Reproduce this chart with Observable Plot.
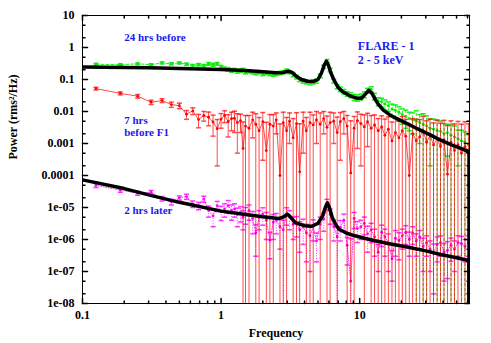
<!DOCTYPE html>
<html><head><meta charset="utf-8">
<script src="https://cdn.jsdelivr.net/npm/d3@7"></script>
<script src="https://cdn.jsdelivr.net/npm/@observablehq/plot@0.6"></script>
<style>body{margin:0;background:#fff}</style>
</head><body><div id="chart"></div>
<script>
// Frequency bins (Hz)
const freq = [0.125,0.1875,0.25,0.3125,0.375,0.4375,0.5,0.5625,0.625,0.6875,
 0.75,0.8125,0.875,0.9375,1.0,1.06,1.125,1.19,1.25,1.31,
 1.38,1.44,1.5,1.59,1.69,1.78,1.88,2.0,2.12,2.25,
 2.38,2.5,2.66,2.81,2.97,3.12,3.31,3.5,3.69,3.91,
 4.12,4.38,4.62,4.88,5.19,5.5,5.81,6.12,6.5,6.88,
 7.25,7.69,8.12,8.62,9.12,9.62,10.2,10.8,11.4,12.1,
 12.8,13.6,14.4,15.2,16.1,17.1,18.1,19.2,20.3,21.5,
 22.8,24.1,25.6,27.1,28.7,30.4,32.2,34.1,36.2,38.3,
 40.6,43.0,45.6,48.3,51.2,54.2,57.5,60.9];

// 24 hrs before (green)
const greenPow = [0.30,0.29,0.31,0.29,0.33,0.31,0.33,0.30,0.27,0.29,
 0.27,0.31,0.29,0.31,0.25,0.22,0.21,0.19,0.20,0.18,
 0.19,0.20,0.17,0.18,0.17,0.16,0.17,0.15,0.16,0.15,
 0.145,0.15,0.16,0.17,0.19,0.17,0.14,0.12,0.10,0.09,
 0.085,0.08,0.085,0.09,0.13,0.25,0.38,0.20,0.09,0.06,
 0.05,0.042,0.036,0.033,0.028,0.027,0.029,0.034,0.045,0.05,
 0.03,0.021,0.02,0.017,0.015,0.012,0.011,0.0095,0.008,0.007,
 0.006,0.0055,0.005,0.0045,0.004,0.0035,0.003,0.0028,0.0025,0.0024,
 0.002,0.0022,0.0018,0.0016,0.0014,0.0012,0.0011,0.0009];
const greenErr = [0.02,0.02,0.02,0.02,0.025,0.025,0.025,0.025,0.025,0.025,
 0.025,0.03,0.03,0.03,0.025,0.025,0.025,0.022,0.022,0.022,
 0.022,0.022,0.02,0.02,0.02,0.02,0.02,0.018,0.018,0.018,
 0.018,0.018,0.02,0.02,0.022,0.02,0.018,0.016,0.014,0.013,
 0.012,0.012,0.012,0.013,0.016,0.03,0.04,0.025,0.012,0.009,
 0.008,0.007,0.006,0.006,0.006,0.006,0.006,0.007,0.008,0.009,
 0.007,0.006,0.006,0.006,0.005,0.005,0.005,0.0045,0.004,0.004,
 0.0035,0.0035,0.0055,0.0035,0.0045,0.0038,0.0028,0.003,0.0028,0.0026,
 0.0022,0.0018,0.002,0.0019,0.0012,0.0014,0.0012,0.001];

// 7 hrs before F1 (red)
const redPow = [0.052,0.037,0.030,0.0195,0.022,0.0165,0.0152,0.0082,0.0105,0.0056,
 0.0075,0.0066,0.0047,0.0029,0.0058,0.0075,0.0048,0.006,0.0062,0.0045,
 0.0052,0.0007,0.0035,0.003,0.0055,0.004,0.0025,0.0048,0.0006,0.004,
 0.0035,0.0055,0.0001,0.0045,0.0025,0.005,0.0015,0.0042,0.00013,0.005,
 0.0025,0.0045,0.0038,0.0055,0.004,0.006,0.0032,0.0045,0.005,0.0022,
 0.0048,0.006,0.0035,0.00012,0.003,0.0052,0.0042,0.0033,0.0048,0.003,
 0.0038,0.0025,0.0033,0.0018,0.0028,0.0012,0.0022,0.0015,0.0025,0.0017,
 0.0001,0.002,0.0012,0.0016,0.0025,0.0011,0.0018,0.0009,0.0014,0.0008,
 0.0013,0.00011,0.0011,0.0006,0.0009,0.0005,0.0008,0.0006];
const redErr = [0.005,0.004,0.004,0.003,0.003,0.003,0.003,0.0025,0.0025,0.0025,
 0.0025,0.003,0.003,0.0027,0.0028,0.003,0.0032,0.0035,0.004,0.004,
 0.003,0.004,0.004,0.0045,0.004,0.0045,0.004,0.0045,0.004,0.004,
 0.0045,0.0035,0.004,0.005,0.004,0.004,0.0045,0.005,0.004,0.0045,
 0.004,0.005,0.004,0.0045,0.005,0.004,0.004,0.005,0.004,0.0045,
 0.0045,0.004,0.004,0.005,0.004,0.0045,0.004,0.0045,0.004,0.0045,
 0.004,0.0035,0.004,0.004,0.004,0.0035,0.004,0.0035,0.0045,0.004,
 0.0035,0.004,0.0045,0.004,0.0045,0.004,0.004,0.0035,0.004,0.0035,
 0.004,0.0035,0.004,0.0035,0.004,0.0035,0.004,0.0035];

// 2 hrs later (magenta)
const magPow = [4.9e-5,3.5e-5,2.8e-5,3.0e-5,1.9e-5,1.5e-5,2.0e-5,2.2e-5,1.3e-5,1.15e-5,
 1.85e-5,8e-6,5.5e-6,1.15e-5,7.4e-6,9e-6,1.15e-5,8e-6,9e-6,6e-6,
 7e-6,5e-6,6.5e-6,8e-6,4.5e-6,1.6e-6,5e-6,6.3e-6,4e-6,9.5e-7,
 3.5e-6,4e-6,2.5e-6,2e-6,6.3e-6,5e-6,3e-6,3.2e-6,2e-6,2.5e-6,
 1.6e-6,1.3e-6,2.5e-6,9e-7,3e-6,4.3e-6,1.3e-5,6e-6,2.5e-6,1.2e-6,
 2.4e-6,4e-6,6.6e-7,5e-8,4.6e-6,2.2e-6,2.5e-6,3.2e-6,1.5e-6,2e-6,
 1.2e-6,4e-7,1.7e-6,1.2e-6,8e-7,2.5e-7,1.1e-6,9.3e-7,1.3e-6,1.7e-6,
 1.0e-6,1.6e-6,9e-7,1.2e-6,6e-7,8e-7,5e-7,3.7e-7,7e-7,8e-7,
 4e-7,4.6e-7,6.6e-7,5e-7,8e-7,7.5e-7,6e-7,8e-7];
const magErr = [7e-6,5e-6,4e-6,4e-6,3e-6,3e-6,3e-6,4e-6,3e-6,3e-6,
 4e-6,3e-6,3e-6,4e-6,3.5e-6,4e-6,5e-6,4e-6,4e-6,3.5e-6,
 3.5e-6,3e-6,3.5e-6,4e-6,3e-6,1.3e-6,3e-6,3.5e-6,3e-6,7e-7,
 2.5e-6,2.5e-6,2e-6,2e-6,3.5e-6,3e-6,2e-6,2e-6,1.6e-6,1.8e-6,
 1.4e-6,1.2e-6,1.6e-6,7e-7,2e-6,2.5e-6,5e-6,3e-6,1.6e-6,1.2e-6,
 1.5e-6,2.2e-6,5e-7,1.0e-6,2.4e-6,1.4e-6,1.5e-6,1.8e-6,1.1e-6,1.2e-6,
 9e-7,3e-7,1.1e-6,9e-7,7e-7,2e-7,8e-7,7e-7,8e-7,1e-6,
 7e-7,9e-7,6e-7,7e-7,5e-7,5e-7,4e-7,3.5e-7,5e-7,5e-7,
 3.5e-7,4e-7,4.5e-7,4e-7,5e-7,5e-7,4e-7,5e-7];

// Model fits (black)
const modelGreenF = [0.1,0.3,1.0,1.5,2.0,2.5,2.8,3.0,3.1,3.3,3.5,3.8,4.2,4.6,5.0,5.3,5.55,5.75,5.95,6.2,6.5,7.0,7.5,8.5,9.5,10.3,11.0,11.6,12.2,12.8,13.6,14.8,16.5,18.7,22,26,32,38,46,55,61.5,61.5];
const modelGreenP = [0.245,0.235,0.205,0.19,0.175,0.162,0.165,0.178,0.18,0.16,0.125,0.1,0.088,0.086,0.1,0.16,0.28,0.37,0.28,0.16,0.1,0.056,0.042,0.031,0.026,0.026,0.035,0.046,0.038,0.026,0.017,0.011,0.0078,0.0059,0.0042,0.0029,0.0019,0.0013,0.0009,0.00068,0.00054,1e-12];
const modelMagF = [0.1,0.2,0.31,0.5,1.0,1.5,2.0,2.6,2.85,3.0,3.15,3.45,4.0,4.5,5.0,5.4,5.65,5.85,6.05,6.35,6.7,7.1,8.0,9.1,11,12.7,16,22,30,38.5,50,61.5,61.5];
const modelMagP = [7.3e-5,3.9e-5,2.4e-5,1.45e-5,7.7e-6,6.0e-6,5.1e-6,4.5e-6,5.2e-6,6.2e-6,5.2e-6,3.3e-6,2.7e-6,2.6e-6,3.2e-6,5.5e-6,1.0e-5,1.4e-5,1.0e-5,4.8e-6,3e-6,2.1e-6,1.6e-6,1.33e-6,1.08e-6,9.3e-7,7.5e-7,5.8e-7,4.4e-7,3.4e-7,2.7e-7,2.2e-7,1e-12];

// Axis ticks
const xMajor = [0.1, 1, 10];
const xMajorLabels = ["0.1", "1", "10"];
const xMinor = [0.2,0.3,0.4,0.5,0.6,0.7,0.8,0.9,2,3,4,5,6,7,8,9,20,30,40,50,60];
const yMajor = [1e-8,1e-7,1e-6,1e-5,1e-4,1e-3,1e-2,0.1,1,10];
const yMajorLabels = ["1e-08","1e-07","1e-06","1e-05","0.0001","0.001","0.01","0.1","1","10"];
const yMinor = [2e-8,5e-8,2e-7,5e-7,2e-6,5e-6,2e-5,5e-5,2e-4,5e-4,2e-3,5e-3,0.02,0.05,0.2,0.5,2,5];
const xTitle = "Frequency";
const yTitle = "Power (rms²/Hz)";

// Annotations
const notes = [
  {x: 0.2, y: 2.1, text: "24 hrs before", size: 11},
  {x: 9.7, y: 0.68, text: "FLARE - 1\n2 - 5 keV", size: 12},
  {x: 0.2, y: 0.0034, text: "7 hrs\nbefore F1", size: 11},
  {x: 0.2, y: 8.3e-6, text: "2 hrs later", size: 11}
];

const rows = (vals, errs) => freq.map((f, i) => ({
  f, v: vals[i],
  lo: vals[i] - errs[i] > 0 ? vals[i] - errs[i] : 1e-12,
  hi: vals[i] + errs[i]
}));
const green = rows(greenPow, greenErr);
const red = rows(redPow, redErr);
const mag = rows(magPow, magErr);
const modelG = modelGreenF.map((f, i) => ({f, v: modelGreenP[i]}));
const modelM = modelMagF.map((f, i) => ({f, v: modelMagP[i]}));

const cap = {draw(ctx, size) { const w = Math.sqrt(size / Math.PI); ctx.moveTo(-w, 0); ctx.lineTo(w, 0); }};

function series(data, color, dash, opacity) {
  return [
    Plot.line(data, {x: "f", y: "v", stroke: color, strokeWidth: 1, strokeDasharray: dash, strokeOpacity: opacity, clip: true}),
    Plot.ruleX(data, {x: "f", y1: "lo", y2: "hi", stroke: color, strokeWidth: 1, strokeDasharray: dash, strokeOpacity: opacity, clip: true}),
    Plot.dot(data, {x: "f", y: "hi", symbol: cap, r: 2.5, stroke: color, fill: "none", strokeOpacity: opacity, clip: true}),
    Plot.dot(data, {x: "f", y: "lo", symbol: cap, r: 2.5, stroke: color, fill: "none", strokeOpacity: opacity, clip: true}),
    Plot.dot(data, {x: "f", y: "v", r: 1.4, fill: color, stroke: "none", clip: true})
  ];
}

function xTicks(vals, len) {
  return [
    Plot.vector(vals, {x: d => d, frameAnchor: "bottom", length: len, rotate: 0, anchor: "start", r: 0, stroke: "#000"}),
    Plot.vector(vals, {x: d => d, frameAnchor: "top", length: len, rotate: 180, anchor: "start", r: 0, stroke: "#000"})
  ];
}
function yTicks(vals, len) {
  return [
    Plot.vector(vals, {y: d => d, frameAnchor: "left", length: len, rotate: 90, anchor: "start", r: 0, stroke: "#000"}),
    Plot.vector(vals, {y: d => d, frameAnchor: "right", length: len, rotate: -90, anchor: "start", r: 0, stroke: "#000"})
  ];
}

const chart = Plot.plot({
  width: 491, height: 343,
  marginLeft: 82, marginRight: 22, marginTop: 15, marginBottom: 40,
  style: {fontFamily: "'Liberation Serif', 'Times New Roman', serif", fontSize: "12px", fontWeight: "bold", color: "#000", background: "#fff"},
  x: {type: "log", domain: [0.1, 62], ticks: xMajor, tickFormat: d => xMajorLabels[xMajor.indexOf(d)], tickSize: 0, tickPadding: 7, label: null},
  y: {type: "log", domain: [1e-8, 10], ticks: yMajor, tickFormat: d => yMajorLabels[yMajor.indexOf(d)], tickSize: 0, tickPadding: 8, label: null},
  marks: [
    ...series(green, "#00ee00", "3,2", 0.9),
    ...series(mag, "#ff00ff", "1,1.5", 0.8),
    ...series(red, "#ff0000", null, 0.7),
    Plot.line(modelG, {x: "f", y: "v", stroke: "#000", strokeWidth: 3.5, clip: true}),
    Plot.line(modelM, {x: "f", y: "v", stroke: "#000", strokeWidth: 3.5, clip: true}),
    ...xTicks(xMajor, 5), ...xTicks(xMinor, 2.5),
    ...yTicks(yMajor, 5), ...yTicks(yMinor, 2.5),
    Plot.frame({stroke: "#000"}),
    Plot.text([xTitle], {text: d => d, frameAnchor: "bottom", dy: 33, fontSize: 12, fontWeight: "bold", fill: "#000"}),
    Plot.text([yTitle], {text: d => d, frameAnchor: "left", dx: -69, rotate: -90, fontSize: 12, fontWeight: "bold", fill: "#000"}),
    Plot.text(notes, {x: "x", y: "y", text: "text", fontSize: "size", textAnchor: "start", lineAnchor: "middle", lineHeight: 1.1, fill: "#1a1aee", fontWeight: "bold"})
  ]
});
document.getElementById("chart").appendChild(chart);
</script>
</body></html>
